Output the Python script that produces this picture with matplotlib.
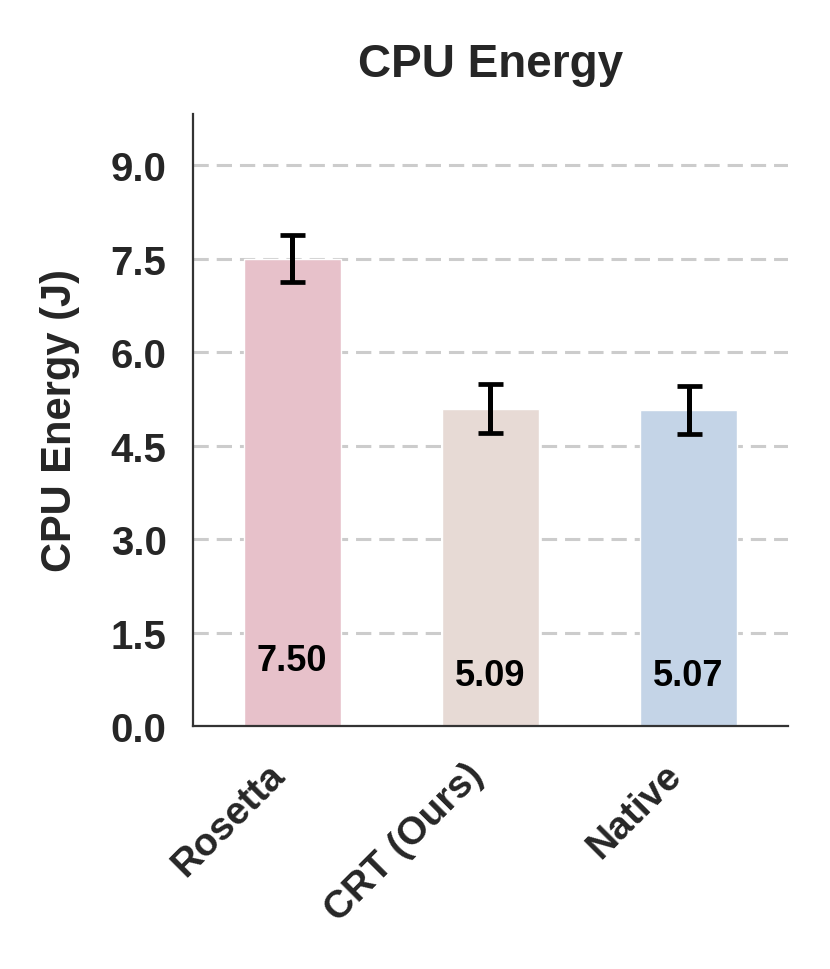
import numpy as np
from matplotlib import pyplot as plt

"""Data read off the reference"""
methods = ["Rosetta", "CRT (Ours)", "Native"]
energy = [7.50, 5.09, 5.07]
energy_err = [0.37, 0.39, 0.38]
bar_colors = ["#E7C1CA", "#E7DAD5", "#C4D4E7"]
y_ticks = [0.0, 1.5, 3.0, 4.5, 6.0, 7.5, 9.0]

plt.rcParams["font.family"] = ["Liberation Sans", "DejaVu Sans"]
plt.rcParams["font.weight"] = "bold"
dark = "#262626"

fig = plt.figure(figsize=(8.3, 9.7), dpi=100)
ax = fig.add_axes([0.2325, 0.2505, 0.7165, 0.631])

x = np.arange(len(methods))
ax.bar(x, energy, width=0.49, color=bar_colors, edgecolor="white",
       linewidth=1, zorder=2)
ax.errorbar(x, energy, yerr=energy_err, fmt="none", ecolor="black",
            elinewidth=3.6, capsize=9, capthick=3.4, zorder=3)

for xi, h in zip(x, energy):
    ax.text(xi, h * 0.1 + 0.3, f"{h:.2f}", ha="center", va="center",
            fontsize=26, fontweight="bold", color="black", zorder=4)

ax.set_xlim(-0.5, 2.5)
ax.set_ylim(0, 9.82)
ax.set_yticks(y_ticks)
ax.set_yticklabels([f"{t:.1f}" for t in y_ticks])
ax.set_xticks(x)
ax.set_xticklabels(methods, rotation=45, ha="right")
ax.tick_params(axis="both", length=0, colors=dark)
ax.tick_params(axis="y", labelsize=29, pad=19)
ax.tick_params(axis="x", labelsize=28, pad=22)
for lab in ax.get_xticklabels() + ax.get_yticklabels():
    lab.set_fontweight("bold")

ax.yaxis.grid(True, color="#cccccc", linewidth=2.2, dashes=(5, 2.6), zorder=0)
ax.set_axisbelow(True)
for side in ["top", "right"]:
    ax.spines[side].set_visible(False)
for side in ["left", "bottom"]:
    ax.spines[side].set_color("#333333")
    ax.spines[side].set_linewidth(1.6)

ax.set_ylabel("CPU Energy (J)", fontsize=30, fontweight="bold", color=dark,
              labelpad=22)
ax.set_title("CPU Energy", fontsize=33, fontweight="bold", color=dark, pad=27)

fig.savefig("out.png", dpi=100)
